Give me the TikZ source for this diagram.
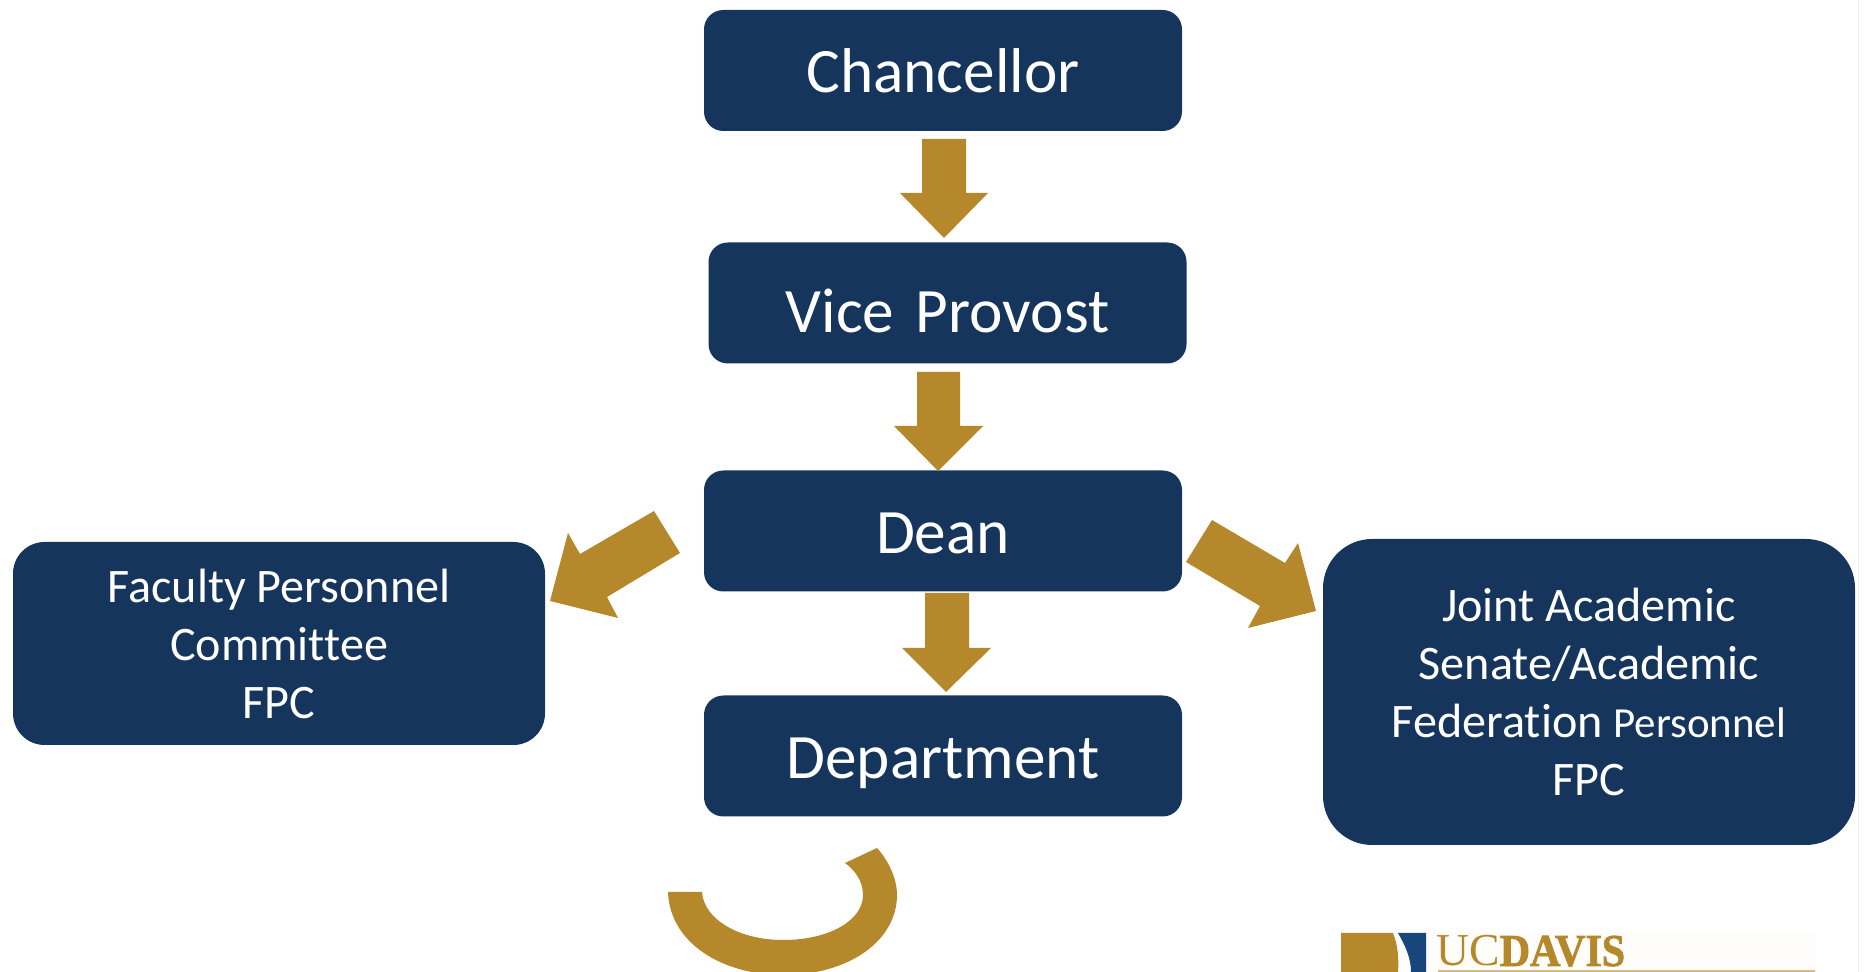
\documentclass[tikz,border=0pt]{standalone}
\usepackage{fontspec}
\setmainfont{Carlito}[Ligatures=NoCommon]
\newfontfamily\logoserif{Liberation Serif}[BoldFeatures={FakeBold=1.5,FakeStretch=0.92}]
\usetikzlibrary{positioning}
\definecolor{navybox}{RGB}{22,53,92}
\definecolor{goldarrow}{RGB}{181,137,43}
\definecolor{logoblue}{RGB}{24,69,122}
\definecolor{logocream}{RGB}{254,253,250}
\definecolor{logoline}{RGB}{214,188,130}
\tikzset{
  smallbox/.style={fill=navybox,text=white,rounded corners=11pt,inner sep=0pt,align=center,
    minimum width=478*0.02cm,minimum height=121*0.02cm,text depth=0pt,font=\fontsize{36}{44}\selectfont},
  widebox/.style={fill=navybox,text=white,rounded corners=18pt,inner sep=0pt,align=center,
    minimum width=532*0.02cm,font=\fontsize{27.4}{33}\selectfont},
  goldshape/.style={fill=goldarrow,draw=none},
}
\begin{document}
\begin{tikzpicture}[x=0.02cm,y=-0.02cm]
\useasboundingbox (0,0) rectangle (1864,972);
\clip (0,0) rectangle (1864,972);

% page edge
\fill[black!8] (1858,0) rectangle (1859,972);

% boxes
\node[smallbox,text height=24.5pt] (chancellor) at (943,70.5) {Chancellor};
\node[smallbox,text height=33.4pt] (viceprovost) at (947.5,303) {Vice\hspace{12.2pt}Provost};
\node[smallbox,text height=25.2pt] (dean) at (943,531) {Dean};
\node[smallbox,text height=25.8pt] (department) at (943,756) {Department};
\node[widebox,minimum height=203*0.02cm] (fpc) at (279,643.5) {Faculty Personnel\\Committee\\FPC};
\node[widebox,rounded corners=28pt,minimum height=306*0.02cm] (joint) at (1589,692) {Joint Academic\\Senate/Academic\\Federation {\fontsize{24.4}{33}\selectfont Personnel}\\FPC};

% arrows
\fill[goldshape] (922,139) -- (966,139) -- (966,193) -- (988,193) -- (944,238) -- (900,193) -- (922,193) -- cycle;
\fill[goldshape] (917,372) -- (960,372) -- (960,426) -- (983,426) -- (938,471) -- (894,426) -- (917,426) -- cycle;
\fill[goldshape] (925,593) -- (969,593) -- (969,648) -- (991,648) -- (946,692) -- (902,648) -- (925,648) -- cycle;
\fill[goldshape] (654,511) -- (680,553) -- (607,597) -- (618,618) -- (550,601) -- (568,533) -- (580,554) -- cycle;
\fill[goldshape] (1212,520) -- (1285,563) -- (1298,543) -- (1316,611) -- (1248,628) -- (1260,606) -- (1186,562) -- cycle;

% curved arrow below department
\fill[goldshape] (668,892) .. controls (670,945) and (725,975) .. (783,975)
  .. controls (850,975) and (897,940) .. (897,895)
  .. controls (897,878) and (888,860) .. (877,848)
  -- (845,863) .. controls (856,871) and (863,882) .. (863,895)
  .. controls (863,920) and (830,940) .. (783,940)
  .. controls (740,940) and (704,920) .. (702,892) -- cycle;

% logo
\fill[logocream] (1426,933) rectangle (1815,972);
\fill[goldarrow] (1341,933) -- (1393,933) .. controls (1398,945) and (1399,960) .. (1398,972) -- (1341,972) -- cycle;
\fill[logoblue] (1398,933) -- (1426,933) -- (1426,972) -- (1411,972) .. controls (1411,958) and (1405,945) .. (1398,933) -- cycle;
\node[anchor=base west,inner sep=0pt,text=goldarrow,font=\fontsize{26}{26}\selectfont] (logotext) at (1436,966)
  {\logoserif UC\bfseries DAVIS};
\fill[logoline] (1438,970) rectangle (1815,972);
\end{tikzpicture}
\end{document}
